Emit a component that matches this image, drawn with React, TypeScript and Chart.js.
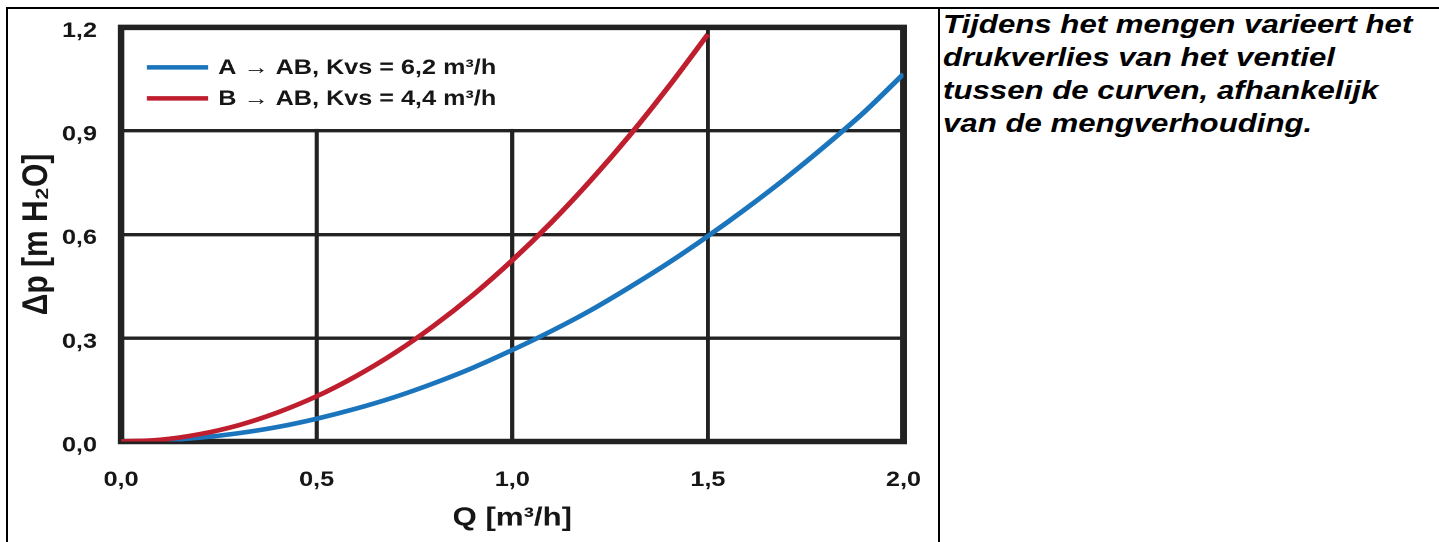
import { useEffect, useRef } from 'react';
import { Chart, registerables } from 'chart.js';

Chart.register(...registerables);

const flowA = [0, 0.1, 0.2, 0.3, 0.4, 0.5, 0.6, 0.7, 0.8, 0.9, 1.0, 1.1, 1.2, 1.3, 1.4, 1.5, 1.6, 1.7, 1.8, 1.9, 2.0];
const dpA = [0, 0.003, 0.011, 0.024, 0.042, 0.066, 0.095, 0.129, 0.169, 0.214, 0.265, 0.32, 0.38, 0.447, 0.518, 0.595, 0.677, 0.764, 0.857, 0.955, 1.065];
const flowB = [0, 0.1, 0.2, 0.3, 0.4, 0.5, 0.6, 0.7, 0.8, 0.9, 1.0, 1.1, 1.2, 1.3, 1.4, 1.5];
const dpB = [0, 0.005, 0.021, 0.047, 0.084, 0.131, 0.189, 0.257, 0.336, 0.425, 0.525, 0.635, 0.756, 0.887, 1.029, 1.18];

const xTickLabels = ['0,0', '0,5', '1,0', '1,5', '2,0'];
const yTickLabels = ['0,0', '0,3', '0,6', '0,9', '1,2'];
const seriesLabels = ['A \u2192 AB, Kvs = 6,2 m\u00b3/h', 'B \u2192 AB, Kvs = 4,4 m\u00b3/h'];
const seriesColors = ['#1b75bc', '#be1e2d'];
const xTitle = 'Q [m\u00b3/h]';
const yTitle = '\u0394p [m H\u2082O]';
const noteLines = [
  'Tijdens het mengen varieert het',
  'drukverlies van het ventiel',
  'tussen de curven, afhankelijk',
  'van de mengverhouding.',
];

const FONT = 'Arial, "Liberation Sans", sans-serif';
const INK = '#161616';
const STRETCH = 1.2;
const CANVAS_W = 775;
const CANVAS_H = 533;

const framePlugin = {
  id: 'frame',
  beforeDatasetsDraw(chart: any) {
    const { ctx, chartArea, scales } = chart;
    ctx.save();
    // white legend box hiding the vertical grid lines in the top-left cell
    const boxRight = scales.x.getPixelForValue(1.2);
    const boxBottom = scales.y.getPixelForValue(0.9) - 2;
    ctx.fillStyle = '#fff';
    ctx.fillRect(chartArea.left, chartArea.top, boxRight - chartArea.left, boxBottom - chartArea.top);
    ctx.strokeStyle = '#222';
    ctx.lineWidth = 5.5;
    ctx.lineJoin = 'miter';
    ctx.strokeRect(chartArea.left, chartArea.top, chartArea.right - chartArea.left, chartArea.bottom - chartArea.top);
    ctx.restore();
  },
};

const inlineLegend = {
  id: 'inlineLegend',
  afterDatasetsDraw(chart: any) {
    const { ctx, chartArea } = chart;
    chart.data.datasets.forEach((ds: any, i: number) => {
      const y = chartArea.top + 40 + i * 31;
      ctx.save();
      ctx.strokeStyle = ds.borderColor;
      ctx.lineWidth = 4.5;
      ctx.beginPath();
      ctx.moveTo(chartArea.left + 21.6, y);
      ctx.lineTo(chartArea.left + 72.5, y);
      ctx.stroke();
      ctx.fillStyle = INK;
      ctx.font = `bold 21px ${FONT}`;
      ctx.textBaseline = 'middle';
      ctx.fillText(ds.label, chartArea.left + 81, y + 1);
      ctx.restore();
    });
  },
};

function PressureChart() {
  const ref = useRef<HTMLCanvasElement | null>(null);
  useEffect(() => {
    if (!ref.current) return;
    const chart = new Chart(ref.current, {
      type: 'line',
      data: {
        datasets: [
          {
            label: seriesLabels[0],
            data: flowA.map((q, i) => ({ x: q, y: dpA[i] })),
            borderColor: seriesColors[0],
            borderWidth: 4.6,
            pointRadius: 0,
            cubicInterpolationMode: 'monotone',
            fill: false,
            order: 2,
          },
          {
            label: seriesLabels[1],
            data: flowB.map((q, i) => ({ x: q, y: dpB[i] })),
            borderColor: seriesColors[1],
            borderWidth: 4.6,
            pointRadius: 0,
            cubicInterpolationMode: 'monotone',
            fill: false,
            order: 1,
          },
        ],
      },
      options: {
        animation: false,
        responsive: false,
        devicePixelRatio: 2,
        layout: { padding: { top: 18.4, right: 28.75, left: 0, bottom: 0 } },
        plugins: { legend: { display: false }, tooltip: { enabled: false } },
        scales: {
          x: {
            type: 'linear',
            min: 0,
            max: 2,
            border: { display: false },
            grid: { color: '#222', lineWidth: 3.4, drawTicks: false },
            ticks: {
              stepSize: 0.5,
              padding: 26,
              color: INK,
              font: { family: FONT, size: 21, weight: 'bold' },
              callback: (_v: any, i: number) => xTickLabels[i],
            },
            title: {
              display: true,
              text: xTitle,
              color: INK,
              font: { family: FONT, size: 26, weight: 'bold' },
              padding: { top: 0, bottom: 8 },
            },
            afterFit: (s: any) => {
              s.height = 100.5;
              s.paddingLeft = 0;
              s.paddingRight = 0;
            },
          },
          y: {
            type: 'linear',
            min: 0,
            max: 1.2,
            border: { display: false },
            grid: { color: '#222', lineWidth: 3.4, drawTicks: false },
            ticks: {
              stepSize: 0.3,
              padding: 20,
              labelOffset: 4,
              color: INK,
              font: { family: FONT, size: 21, weight: 'bold' },
              callback: (_v: any, i: number) => yTickLabels[i],
            },
            title: {
              display: true,
              text: yTitle,
              color: INK,
              font: { family: FONT, size: 30, weight: 'bold' },
              padding: { top: 6, bottom: 0 },
            },
            afterFit: (s: any) => {
              s.width = 94.17;
              s.paddingTop = 0;
              s.paddingBottom = 0;
            },
          },
        },
      },
      plugins: [framePlugin, inlineLegend],
    } as any);
    return () => chart.destroy();
  }, []);
  return <canvas ref={ref} width={CANVAS_W} height={CANVAS_H} style={{ display: 'block' }} />;
}

export default function App() {
  return (
    <div
      style={{
        position: 'absolute',
        left: 6,
        top: 7,
        width: 1433,
        height: 535,
        boxSizing: 'border-box',
        borderTop: '2px solid #000',
        borderLeft: '2px solid #000',
        display: 'flex',
        background: '#fff',
        overflow: 'hidden',
      }}
    >
      <div style={{ width: 930, height: 533, flex: 'none', overflow: 'hidden' }}>
        <div
          style={{
            width: CANVAS_W,
            height: CANVAS_H,
            transform: `scaleX(${930 / CANVAS_W})`,
            transformOrigin: '0 0',
          }}
        >
          <PressureChart />
        </div>
      </div>
      <div
        style={{
          flex: 1,
          borderLeft: '2px solid #000',
          paddingLeft: 3,
          overflow: 'hidden',
        }}
      >
        <div
          style={{
            fontFamily: FONT,
            fontWeight: 'bold',
            fontStyle: 'italic',
            fontSize: 26,
            lineHeight: '33px',
            color: '#000',
            marginTop: -1.5,
            transform: `scaleX(${STRETCH})`,
            transformOrigin: '0 0',
          }}
        >
          {noteLines.map((l, i) => (
            <div key={i} style={{ whiteSpace: 'nowrap' }}>{l}</div>
          ))}
        </div>
      </div>
    </div>
  );
}
